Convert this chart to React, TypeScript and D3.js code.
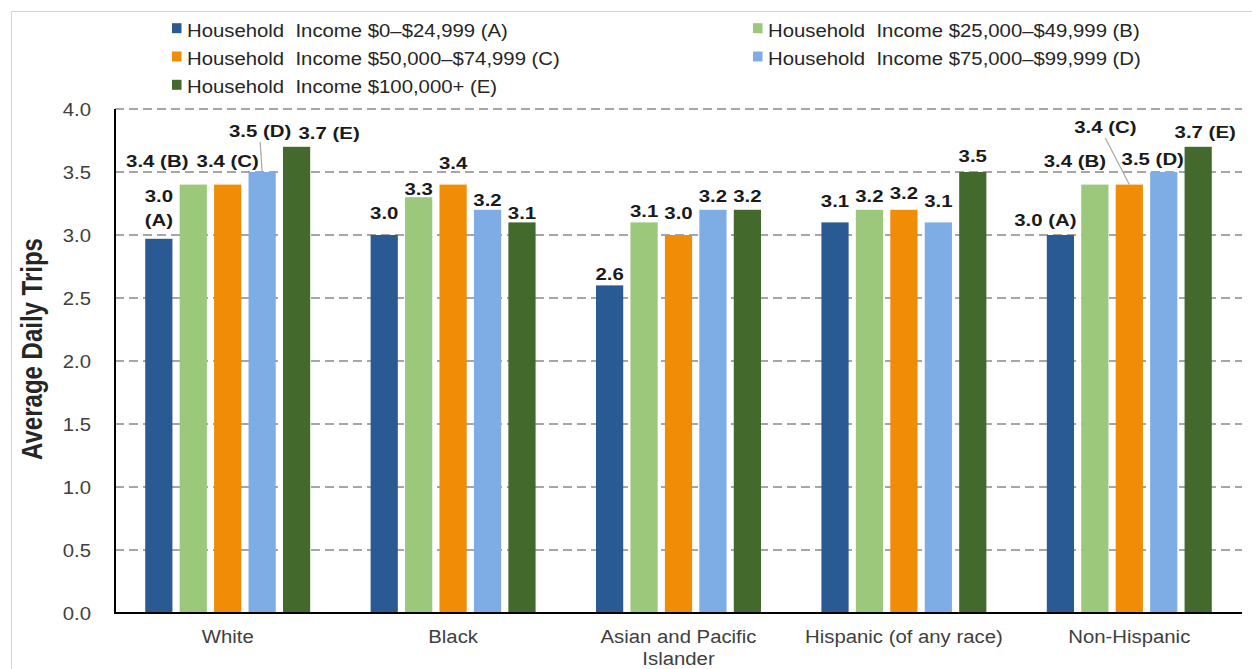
import React from 'react';
import { scaleBand, scaleLinear, range } from 'd3';

// Categories along the x axis.
const categories = ['White', 'Black', 'Asian and Pacific Islander', 'Hispanic (of any race)', 'Non-Hispanic'];

// Series (household income brackets).
const seriesNames = [
  'Household  Income $0–$24,999 (A)',
  'Household  Income $25,000–$49,999 (B)',
  'Household  Income $50,000–$74,999 (C)',
  'Household  Income $75,000–$99,999 (D)',
  'Household  Income $100,000+ (E)',
];
const seriesTags = ['A', 'B', 'C', 'D', 'E'];
const seriesColors = ['#2A5A94', '#9BC87A', '#F08C05', '#7EADE6', '#44692C'];

// Average daily trips, one value per category.
const incomeA = [2.97, 3.0, 2.6, 3.1, 3.0];
const incomeB = [3.4, 3.3, 3.1, 3.2, 3.4];
const incomeC = [3.4, 3.4, 3.0, 3.2, 3.4];
const incomeD = [3.5, 3.2, 3.2, 3.1, 3.5];
const incomeE = [3.7, 3.1, 3.2, 3.5, 3.7];
const seriesValues = [incomeA, incomeB, incomeC, incomeD, incomeE];

// Categories whose data labels carry the series letter.
const taggedCategories = ['White', 'Non-Hispanic'];

// Y axis ticks.
const yTicks = range(0, 4.01, 0.5);

// Hand placement of some data labels (as in the original chart).
const labelTweaks: Record<string, { dx?: number; rise?: number; leader?: boolean; wrap?: boolean }> = {
  'White|A': { rise: 13, wrap: true },
  'White|B': { dx: -36, rise: 17.6 },
  'White|C': { rise: 17.6 },
  'White|D': { dx: -2, rise: 35, leader: true },
  'White|E': { dx: 32.5, rise: 8 },
  'Black|A': { rise: 15.7 },
  'Black|B': { rise: 2.5 },
  'Black|C': { rise: 16 },
  'Black|D': { rise: 4 },
  'Black|E': { rise: 3.5 },
  'Asian and Pacific Islander|C': { rise: 15.7 },
  'Asian and Pacific Islander|D': { rise: 7.7 },
  'Asian and Pacific Islander|E': { rise: 7.7 },
  'Hispanic (of any race)|A': { rise: 15.3 },
  'Hispanic (of any race)|B': { rise: 7.7 },
  'Hispanic (of any race)|C': { rise: 11 },
  'Hispanic (of any race)|D': { rise: 15.3 },
  'Hispanic (of any race)|E': { rise: 10 },
  'Non-Hispanic|A': { dx: -15, rise: 9 },
  'Non-Hispanic|B': { dx: -20, rise: 17.6 },
  'Non-Hispanic|C': { dx: -24, rise: 51.6, leader: true },
  'Non-Hispanic|D': { dx: -11, rise: 7 },
  'Non-Hispanic|E': { dx: 7, rise: 9 },
};

const WIDTH = 1252;
const HEIGHT = 669;
const FONT = '"Liberation Sans", Arial, Helvetica, sans-serif';
const SX = 1.13; // source image is a bit stretched sideways
const SX_BOLD = 1.2;
const plot = { left: 115, right: 1242, top: 109, bottom: 613 };

// measure text so long category names wrap like the original
let ctx: CanvasRenderingContext2D | null = null;
const measure = (s: string, size: number) => {
  if (!ctx) ctx = document.createElement('canvas').getContext('2d');
  if (!ctx) return s.length * size * 0.5;
  ctx.font = `${size}px ${FONT}`;
  return ctx.measureText(s).width * SX;
};
const wrapWords = (s: string, size: number, maxW: number) => {
  const lines: string[] = [];
  let cur = '';
  s.split(' ').forEach((w) => {
    const next = cur ? `${cur} ${w}` : w;
    if (cur && measure(next, size) > maxW) {
      lines.push(cur);
      cur = w;
    } else cur = next;
  });
  lines.push(cur);
  return lines;
};

const SText = ({ x, y, anchor = 'start', size = 18, weight = 'normal', fill = '#262626', sx = SX, children }: any) => (
  <text
    transform={`translate(${x},${y}) scale(${sx},1)`}
    textAnchor={anchor}
    fontSize={size}
    fontWeight={weight}
    fill={fill}
    style={{ whiteSpace: 'pre' }}
  >
    {children}
  </text>
);

const App = () => {
  const x0 = scaleBand<string>().domain(categories).range([plot.left, plot.right]).paddingInner(0.236).paddingOuter(0.118);
  const x1 = scaleBand<string>().domain(seriesTags).range([0, x0.bandwidth()]).paddingInner(0.21).paddingOuter(0.105);
  const y = scaleLinear().domain([0, 4]).range([plot.bottom, plot.top]);

  const labelProps = { size: 17, weight: 'bold', fill: '#1A1A1A', sx: SX_BOLD, anchor: 'middle' };

  return (
    <svg
      width={WIDTH}
      height={HEIGHT}
      style={{ position: 'absolute', left: 0, top: 0, background: '#fff' }}
      fontFamily={FONT}
    >
      <rect x={11.5} y={11.5} width={1300} height={700} fill="none" stroke="#D4D4D4" strokeWidth={1} />

      {/* legend */}
      {seriesNames.map((name, i) => {
        const lx = i % 2 === 0 ? 172 : 753;
        const ly = 36.7 + Math.floor(i / 2) * 28.3;
        return (
          <g key={name}>
            <rect x={lx} y={ly - 13.5} width={9.5} height={10} fill={seriesColors[i]} />
            <SText x={lx + 15} y={ly}>
              {name}
            </SText>
          </g>
        );
      })}

      {/* gridlines */}
      {yTicks
        .filter((t) => t > 0)
        .map((t) => (
          <line
            key={t}
            x1={plot.left}
            x2={plot.right}
            y1={y(t)}
            y2={y(t)}
            stroke="#A6A6A6"
            strokeWidth={2}
            strokeDasharray="9 5"
          />
        ))}

      {/* y tick labels */}
      {yTicks.map((t) => (
        <SText key={t} x={91} y={y(t) + 6.5} anchor="end" fill="#404040">
          {t.toFixed(1)}
        </SText>
      ))}

      {/* y axis title */}
      <text
        transform={`translate(42,${(plot.top + plot.bottom) / 2 - 12}) scale(${SX_BOLD},1) rotate(-90)`}
        textAnchor="middle"
        fontSize={24}
        fontWeight="bold"
        fill="#262626"
      >
        Average Daily Trips
      </text>

      {/* bars */}
      {categories.map((cat, ci) => (
        <g key={cat} transform={`translate(${x0(cat)},0)`}>
          {seriesTags.map((tag, si) => {
            const v = seriesValues[si][ci];
            return (
              <rect
                key={tag}
                x={x1(tag)}
                y={y(v)}
                width={x1.bandwidth()}
                height={y(0) - y(v)}
                fill={seriesColors[si]}
              />
            );
          })}
        </g>
      ))}

      {/* axis lines */}
      <line x1={plot.left} x2={plot.left} y1={plot.top} y2={plot.bottom + 1} stroke="#000" strokeWidth={2} />
      <line x1={plot.left - 1} x2={plot.right} y1={plot.bottom} y2={plot.bottom} stroke="#000" strokeWidth={2} />

      {/* category labels */}
      {categories.map((cat) => {
        const cx = (x0(cat) as number) + x0.bandwidth() / 2;
        const lines = wrapWords(cat, 18, x0.step() - 4);
        return lines.map((ln, li) => (
          <SText key={cat + li} x={cx} y={643 + li * 22} anchor="middle" fill="#404040">
            {ln}
          </SText>
        ));
      })}

      {/* data labels */}
      {categories.map((cat, ci) =>
        seriesTags.map((tag, si) => {
          const v = seriesValues[si][ci];
          const tw = labelTweaks[`${cat}|${tag}`] || {};
          const bx = (x0(cat) as number) + (x1(tag) as number) + x1.bandwidth() / 2;
          const top = y(v);
          const lx = bx + (tw.dx ?? 0);
          const base = top - (tw.rise ?? 5);
          const tagged = taggedCategories.includes(cat);
          const val = v.toFixed(1);
          return (
            <g key={cat + tag}>
              {tw.leader && <line x1={lx} y1={base + 5} x2={bx} y2={top} stroke="#A6A6A6" strokeWidth={1.2} />}
              {tw.wrap ? (
                <>
                  <SText x={lx} y={base - 23.3} {...labelProps}>
                    {val}
                  </SText>
                  <SText x={lx} y={base} {...labelProps}>
                    ({tag})
                  </SText>
                </>
              ) : (
                <SText x={lx} y={base} {...labelProps}>
                  {tagged ? `${val} (${tag})` : val}
                </SText>
              )}
            </g>
          );
        })
      )}
    </svg>
  );
};

export default App;
